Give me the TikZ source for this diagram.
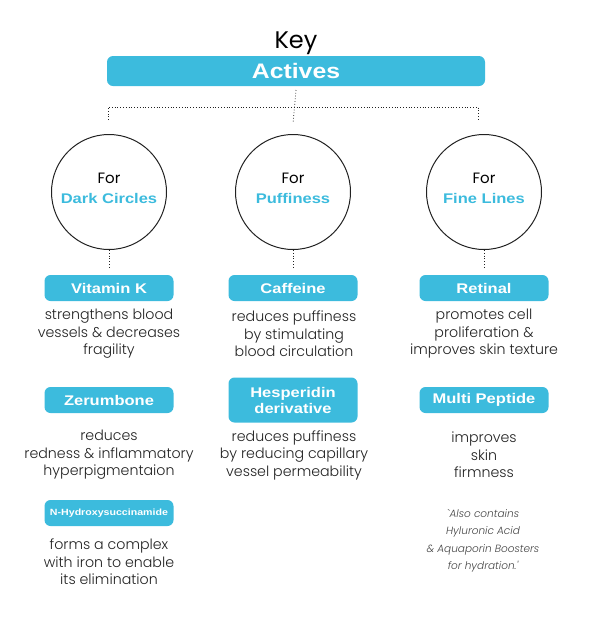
\documentclass[tikz,border=0pt]{standalone}
\usepackage{fontspec}
\setmainfont{Poppins}
\newfontfamily\descfont{Poppins Light}
\newfontfamily\blocfont[FakeStretch=1.18]{Liberation Sans}
\definecolor{skyblue}{HTML}{3CBBDD}
\definecolor{inkgray}{HTML}{222222}
\definecolor{notegray}{HTML}{444444}

\begin{document}
\begin{tikzpicture}[x=1pt, y=-1pt,
    bloc/.style={fill=skyblue, rounded corners=6pt,
        minimum width=129pt, minimum height=26pt,
        text=white, font=\blocfont\bfseries\fontsize{14}{16}\selectfont,
        align=center, inner sep=0pt, outer sep=0pt},
    ring/.style={circle, draw=inkgray, line width=1pt,
        minimum size=115pt, inner sep=0pt},
    ringtext/.style={font=\fontsize{15}{20}\selectfont, align=center, inner sep=0pt},
    desc/.style={text=inkgray, font=\descfont\fontsize{14.2}{17.5}\selectfont,
        align=center, inner sep=0pt},
    link/.style={draw=inkgray, dotted, line width=0.8pt},
    ]
    \useasboundingbox (0,0) rectangle (590,625);

    \node[font=\fontsize{24}{28}\selectfont] (key) at (296,43) {Key};
    \node[bloc, minimum width=378pt, minimum height=30pt,
        font=\blocfont\bfseries\fontsize{21}{24}\selectfont] (actives) at (296,71) {Actives};

    \node[ring] (dark) at (109,192) {};
    \node[ring] (puff) at (293,192) {};
    \node[ring] (fine) at (484,192) {};
    \node[ringtext] (darktext) at (109,188) {For\\{\blocfont\bfseries\fontsize{14}{16}\selectfont\color{skyblue}Dark Circles}};
    \node[ringtext] (pufftext) at (293,188) {For\\{\blocfont\bfseries\fontsize{14}{16}\selectfont\color{skyblue}Puffiness}};
    \node[ringtext] (finetext) at (484,188) {For\\{\blocfont\bfseries\fontsize{14}{16}\selectfont\color{skyblue}Fine Lines}};

    % dotted tree
    \coordinate (fork) at (293,107);
    \coordinate (midtip) at (293,123);
    \coordinate (ltip) at (108,120);
    \coordinate (rtip) at (478,120);
    \draw[link] ([yshift=-4pt]actives.south) -- (midtip);
    \draw[link] (ltip) |- (fork) -| (rtip);

    \node[bloc] (vitk) at (109,288) {Vitamin K};
    \node[bloc] (caff) at (293,288) {Caffeine};
    \node[bloc] (ret) at (484,288) {Retinal};

    \draw[link, shorten >=7pt] (dark) -- (vitk);
    \draw[link, shorten >=7pt] (puff) -- (caff);
    \draw[link, shorten >=7pt] (fine) -- (ret);

    \node[desc] (vitkdesc) at (109,334) {strengthens blood\\vessels \& decreases\\fragility};
    \node[desc] (caffdesc) at (294,334) {reduces puffiness\\by stimulating\\blood circulation};
    \node[desc] (retdesc) at (484,334) {promotes cell\\proliferation \&\\improves skin texture};

    \node[bloc] (zer) at (109,400) {Zerumbone};
    \node[bloc, minimum height=45pt] (hesp) at (293,400) {Hesperidin\\derivative};
    \node[bloc] (mpep) at (484,400) {Multi Peptide};

    \node[desc] (zerdesc) at (109,455) {reduces\\redness \& inflammatory\\hyperpigmentaion};
    \node[desc] (hespdesc) at (294,455) {reduces puffiness\\by reducing capillary\\vessel permeability};
    \node[desc] (mpepdesc) at (484,455) {improves\\skin\\firmness};

    \node[bloc, font=\blocfont\bfseries\fontsize{9}{11}\selectfont] (nhyd) at (109,513) {N-Hydroxysuccinamide};
    \node[desc] (nhyddesc) at (109,562) {forms a complex\\with iron to enable\\its elimination};

    \node[desc, text=notegray, font=\descfont\itshape\fontsize{10.5}{17.5}\selectfont] (note) at (483,541)
        {`Also contains\\Hyluronic Acid\\\& Aquaporin Boosters\\for hydration.'};
\end{tikzpicture}
\end{document}
